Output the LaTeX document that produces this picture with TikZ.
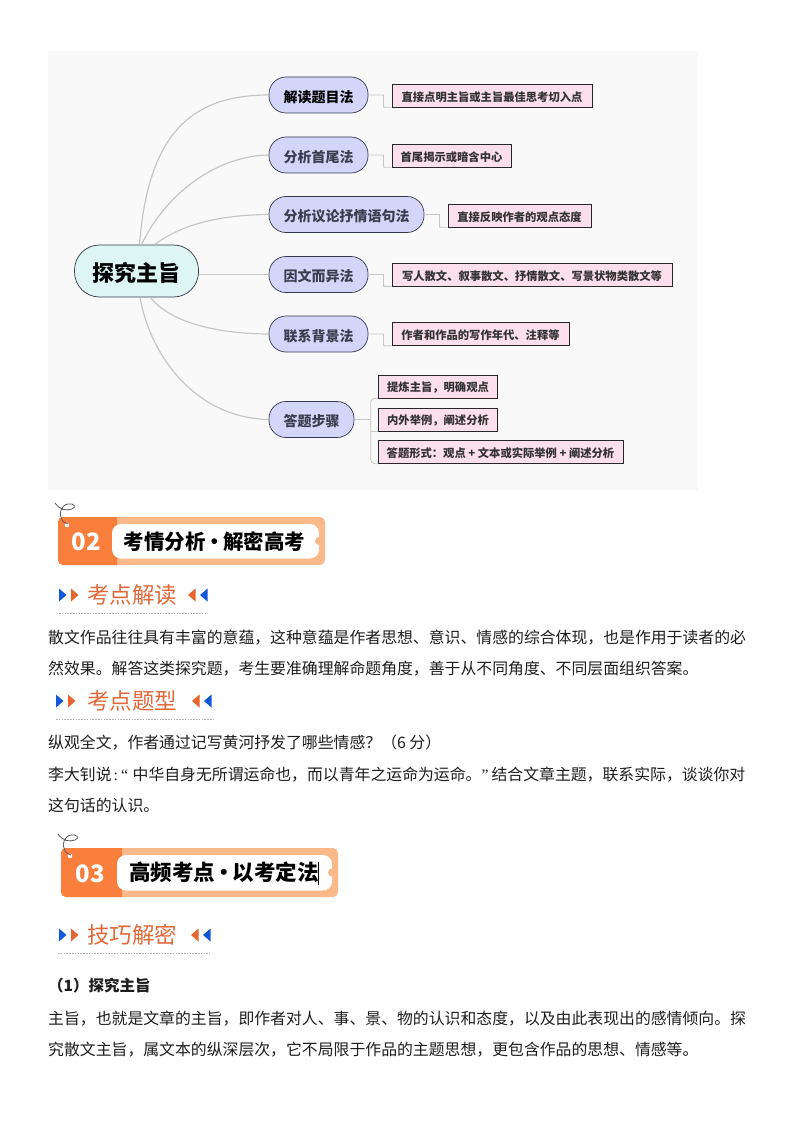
\documentclass[tikz,border=0pt]{standalone}
\usepackage{fontspec}
\setmainfont{Noto Sans CJK SC}
\newfontfamily\latinq{Liberation Serif}
\usetikzlibrary{calc}
\definecolor{panel}{HTML}{F9F9F9}
\definecolor{conn}{HTML}{C6C6C4}
\definecolor{rootfill}{HTML}{DDF6F3}
\definecolor{branchfill}{HTML}{D3D6F8}
\definecolor{leaffill}{HTML}{FBDFEC}
\definecolor{edge}{HTML}{34384F}
\definecolor{branchink}{HTML}{3C3E50}
\definecolor{leafink}{HTML}{333333}
\definecolor{bandlight}{HTML}{FBB888}
\definecolor{bandorange}{HTML}{FB7F3C}
\definecolor{headorange}{HTML}{E0693A}
\definecolor{triblue}{HTML}{1257D8}
\definecolor{triorange}{HTML}{E8652F}
\definecolor{dots}{HTML}{B4B4B4}
\definecolor{bodyink}{HTML}{1E1E1E}
\newcommand{\fsz}[1]{\fontsize{#1}{#1}\selectfont}
\newcommand{\dn}[2]{\raisebox{-#1pt}[\height][\depth]{#2}}
\newcommand{\pairL}[2]{% x,y of first triangle
  \fill[triblue] (#1,#2-6.5) -- (#1+7.5,#2) -- (#1,#2+6.5) -- cycle;
  \fill[triorange] (#1+12,#2-6.5) -- (#1+19.5,#2) -- (#1+12,#2+6.5) -- cycle;}
\newcommand{\pairR}[2]{% x,y of left of pair
  \fill[triorange] (#1+7.5,#2-6.5) -- (#1,#2) -- (#1+7.5,#2+6.5) -- cycle;
  \fill[triblue] (#1+19.5,#2-6.5) -- (#1+12,#2) -- (#1+19.5,#2+6.5) -- cycle;}
\newcommand{\banner}[9]{% x0 x1 y0 y1 split innerL innerR num-x num
  \fill[bandlight,rounded corners=5] (#1,#3) rectangle (#2,#4);
  \fill[bandorange] (#5,#3) [rounded corners=5] -- (#1,#3) -- (#1,#4) [sharp corners] -- (#5,#4) -- cycle;
  \fill[white,rounded corners=9] (#6,#3+7) rectangle (#7,#4-6.5);
  \fill[bandlight] (#7,{(#3+#4)/2}) circle (4);
  \fill[white] (#1+9,#3+8) circle (2.3);
  \draw[black!65,line width=.8pt] (#1-3,#3-14) .. controls (#1+2,#3-7) and (#1+8,#3-6) .. (#1+14,#3-8)
     .. controls (#1+19,#3-10) and (#1+16,#3-14) .. (#1+10,#3-13)
     .. controls (#1+3,#3-12) and (#1+1,#3-3) .. (#1+3,#3)
     .. controls (#1+4,#3+5) and (#1+7,#3+6) .. (#1+10,#3+7);
  \node[bandnum] (num#9) at (#8,{(#3+#4)/2+1}) {#9};}
\begin{document}
\begin{tikzpicture}[x=1pt,y=-1pt,
  rootnode/.style={draw=edge,line width=.7pt,fill=rootfill,rounded corners=25pt,minimum width=124pt,minimum height=52pt,inner sep=0pt,font=\fsz{22}\bfseries,text=black},
  branchnode/.style={draw=edge,line width=.7pt,fill=branchfill,rounded corners=17pt,minimum height=36pt,inner sep=0pt,font=\fsz{14}\bfseries,text=branchink},
  leafnode/.style={draw=black!85,line width=.7pt,fill=leaffill,minimum height=23pt,inner sep=0pt,font=\fsz{11.3}\bfseries,text=leafink},
  link/.style={draw=conn,line width=1.2pt},
  thinlink/.style={draw=conn,line width=.8pt},
  bandnum/.style={font=\fsz{24}\bfseries,text=white,inner sep=0pt},
  bandtext/.style={font=\fsz{20.5}\bfseries,text=black,anchor=west,inner sep=0pt},
  headtext/.style={font=\fsz{22.5},text=headorange,anchor=west,inner sep=0pt},
  bodytext/.style={font=\fsz{15.86},text=bodyink,anchor=west,inner sep=0pt},
  dotline/.style={draw=dots,line width=.9pt,dash pattern=on 1.6pt off 1.2pt}]
\useasboundingbox (0,0) rectangle (794,1123);
\fill[white] (0,0) rectangle (794,1123);
\fill[panel] (48,51) rectangle (698,490);

% mind map nodes
\node[rootnode] (root) at (136.5,271) {\dn{2}{探究主旨}};
\node[branchnode,minimum width=99pt,text=black] (b1) at (318.5,95) {\dn{2}{解读题目法}};
\node[branchnode,minimum width=99pt] (b2) at (318.5,155) {\dn{2}{分析首尾法}};
\node[branchnode,minimum width=155pt] (b3) at (346.5,214.5) {\dn{2}{分析议论抒情语句法}};
\node[branchnode,minimum width=99pt] (b4) at (318.5,274.5) {\dn{2}{因文而异法}};
\node[branchnode,minimum width=99pt] (b5) at (318.5,334) {\dn{2}{联系背景法}};
\node[branchnode,minimum width=85pt] (b6) at (311.5,419.5) {\dn{2}{答题步骤}};
\node[leafnode,minimum width=200pt] (l1) at (492,95.5) {\dn{1.5}{直接点明主旨或主旨最佳思考切入点}};
\node[leafnode,minimum width=119pt] (l2) at (451.5,155.5) {\dn{1.5}{首尾揭示或暗含中心}};
\node[leafnode,minimum width=143pt] (l3) at (519.5,215.5) {\dn{1.5}{直接反映作者的观点态度}};
\node[leafnode,minimum width=280pt] (l4) at (532,274.5) {\dn{1.5}{写人散文、叙事散文、抒情散文、写景状物类散文等}};
\node[leafnode,minimum width=177pt] (l5) at (480.5,334) {\dn{1.5}{作者和作品的写作年代、注释等}};
\node[leafnode,minimum width=119pt] (l6) at (438,386.5) {\dn{1.5}{提炼主旨，明确观点}};
\node[leafnode,minimum width=119pt] (l7) at (438,419.5) {\dn{1.5}{内外举例，阐述分析}};
\node[leafnode,minimum width=245pt] (l8) at (500.5,452) {\dn{1.5}{答题形式：观点 + 文本或实际举例 + 阐述分析}};

% curved connectors
\draw[link] ($(root.north)+(3,0)$) .. controls (148,135) and (190,95) .. (b1.west);
\draw[link] ($(root.north)+(5,0)$) .. controls (165,195) and (215,156) .. (b2.west);
\draw[link] ($(root.north)+(18,0)$) .. controls (185,222) and (225,215) .. (b3.west);
\draw[link] ($(root.east)+(0,3.5)$) -- (b4.west);
\draw[link] ($(root.south)+(14,0)$) .. controls (172,325) and (225,334) .. (b5.west);
\draw[link] ($(root.south)+(3.5,0)$) .. controls (150,355) and (195,418) .. (b6.west);
% elbow connectors
\foreach \b/\l in {b1/l1,b2/l2,b3/l3,b4/l4,b5/l5}{
  \draw[thinlink] (\b.east) -- ++(15,0) -- ($(\l.south west)+(-8,0)$) -- (\l.south west);
}
\draw[thinlink] (b6.east) -- ++(16,0);
\draw[thinlink,rounded corners=4pt] (l6.south west) -- ++(-7.5,0) -- ++(0,65) -- (l8.south west);
\draw[thinlink] (l7.south west) -- ++(-7.5,0);

% banner 02
\banner{58}{325}{517}{565}{117}{112}{319}{86}{02}
\node[bandtext] (t02) at (123.5,541.5) {考情分析\hspace{-1.5pt}•\hspace{-1.5pt}解密高考};
% subhead
\pairL{59}{595}
\node[headtext] (h1) at (87,595) {考点解读};
\pairR{188}{595}
\coordinate (d1a) at (59,613); \coordinate (d1b) at (207,613);
\draw[dotline] (d1a) -- (d1b);
\node[bodytext] (p1) at (48,637.5) {散文作品往往具有丰富的意蕴，这种意蕴是作者思想、意识、情感的综合体现，也是作用于读者的必};
\node[bodytext] (p2) at (48,668.5) {然效果。解答这类探究题，考生要准确理解命题角度，善于从不同角度、不同层面组织答案。};
\pairL{56}{701}
\node[headtext] (h2) at (87,701) {考点题型};
\pairR{192}{701}
\coordinate (d2a) at (56,719); \coordinate (d2b) at (213,719);
\draw[dotline] (d2a) -- (d2b);
\node[bodytext] (p3) at (48,742.5) {纵观全文，作者通过记写黄河抒发了哪些情感？（6 分）};
\node[bodytext] (p4) at (48,774.5) {李大钊说\makebox[21pt][l]{\latinq\hspace{2pt}:\hspace{3pt}“}中华自身无所谓运命也，而以青年之运命为运命。\makebox[10pt][l]{\latinq ”}结合文章主题，联系实际，谈谈你对};
\node[bodytext] (p5) at (48,805.5) {这句话的认识。};

% banner 03
\banner{61}{338}{848}{897}{122}{117}{332}{90}{03}
\node[bandtext,font=\fsz{21.5}\bfseries] (t03) at (129,872.5) {高频考点\hspace{-2pt}•\hspace{-2pt}以考定法};
\coordinate (ca) at (318,862); \coordinate (cb) at (318,885);
\draw[black,line width=.8pt] (ca) -- (cb);
\pairL{59}{935}
\node[headtext] (h3) at (87,935) {技巧解密};
\pairR{191}{935}
\coordinate (d3a) at (58,953); \coordinate (d3b) at (210,953);
\draw[dotline] (d3a) -- (d3b);
\node[bodytext,font=\fsz{15.5}\bfseries] (p6) at (48,986) {（1）探究主旨};
\node[bodytext] (p7) at (48,1018.5) {主旨，也就是文章的主旨，即作者对人、事、景、物的认识和态度，以及由此表现出的感情倾向。探};
\node[bodytext] (p8) at (48,1049.5) {究散文主旨，属文本的纵深层次，它不局限于作品的主题思想，更包含作品的思想、情感等。};
\end{tikzpicture}
\end{document}
